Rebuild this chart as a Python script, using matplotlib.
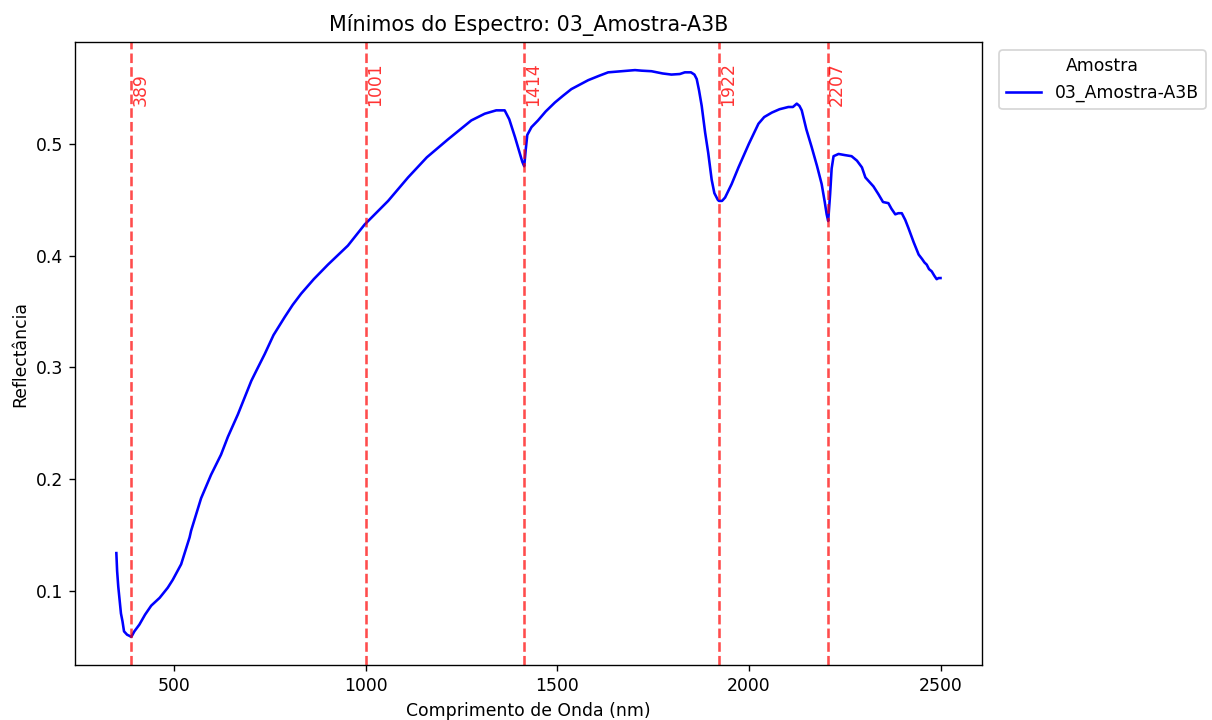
import numpy as np
import matplotlib
matplotlib.use('Agg')
import matplotlib.pyplot as plt

sample_name = '03_Amostra-A3B'

# reflectance spectrum (wavelength in nm)
wavelength = [350, 352, 355, 358, 362, 366, 370, 378, 384, 389, 397, 410, 425, 441,
              463, 484, 497, 519, 531, 541, 545, 571, 597, 623, 641, 667, 702, 715,
              737, 760, 789, 810, 832, 865, 902, 954, 998, 1001, 1059, 1111, 1160,
              1215, 1276, 1311, 1341, 1363, 1375, 1390, 1402, 1409, 1414, 1418, 1422,
              1433, 1450, 1470, 1494, 1515, 1537, 1581, 1610, 1633, 1703, 1720, 1746,
              1775, 1798, 1820, 1833, 1849, 1858, 1864, 1870, 1877, 1886, 1894, 1903,
              1910, 1919, 1922, 1930, 1938, 1955, 1973, 2000, 2025, 2040, 2060, 2080,
              2103, 2115, 2125, 2132, 2138, 2150, 2164, 2178, 2190, 2198, 2203, 2207,
              2212, 2216, 2221, 2234, 2250, 2268, 2282, 2295, 2304, 2312, 2325, 2338,
              2350, 2364, 2372, 2382, 2390, 2399, 2408, 2416, 2430, 2443, 2452, 2458,
              2464, 2470, 2477, 2484, 2490, 2495, 2500]
reflectance = [0.134, 0.118, 0.104, 0.094, 0.080, 0.073, 0.064, 0.061, 0.060, 0.059,
               0.064, 0.070, 0.079, 0.087, 0.094, 0.103, 0.110, 0.124, 0.137, 0.148,
               0.154, 0.183, 0.204, 0.222, 0.238, 0.258, 0.288, 0.297, 0.312, 0.329,
               0.345, 0.356, 0.366, 0.379, 0.392, 0.409, 0.428, 0.429, 0.449, 0.470,
               0.488, 0.504, 0.521, 0.527, 0.530, 0.530, 0.522, 0.506, 0.492, 0.484,
               0.480, 0.495, 0.508, 0.515, 0.521, 0.529, 0.537, 0.543, 0.549, 0.557,
               0.561, 0.564, 0.566, 0.5655, 0.565, 0.563, 0.562, 0.5625, 0.564, 0.564,
               0.562, 0.558, 0.548, 0.534, 0.510, 0.492, 0.468, 0.456, 0.450, 0.449,
               0.449, 0.452, 0.464, 0.479, 0.500, 0.518, 0.524, 0.528, 0.531, 0.533,
               0.533, 0.536, 0.534, 0.530, 0.513, 0.497, 0.480, 0.464, 0.448, 0.437,
               0.431, 0.455, 0.478, 0.489, 0.491, 0.490, 0.489, 0.485, 0.479, 0.470,
               0.467, 0.462, 0.455, 0.448, 0.447, 0.442, 0.437, 0.438, 0.438, 0.432,
               0.425, 0.412, 0.401, 0.397, 0.394, 0.392, 0.388, 0.386, 0.382, 0.379,
               0.380, 0.380]

# absorption minima picked from the spectrum
minima_nm = [389, 1001, 1414, 1922, 2207]

DPI = 124
fig, ax = plt.subplots(figsize=(1212 / DPI, 720 / DPI))
fig.subplots_adjust(left=0.062, right=0.810, bottom=0.076, top=0.942)

ax.plot(wavelength, reflectance, color='blue', linewidth=1.5, label=sample_name)

y_text = max(reflectance) * 0.95
for wl in minima_nm:
    ax.axvline(wl, color='red', linestyle='--', alpha=0.7)
    ax.text(wl, y_text, str(wl), rotation=90, color='red', alpha=0.8)

ax.set_title(f'Mínimos do Espectro: {sample_name}')
ax.set_xlabel('Comprimento de Onda (nm)')
ax.set_ylabel('Reflectância')
ax.legend(title='Amostra', loc='upper left', bbox_to_anchor=(1.01, 1))

fig.savefig('out.png', dpi=DPI)
